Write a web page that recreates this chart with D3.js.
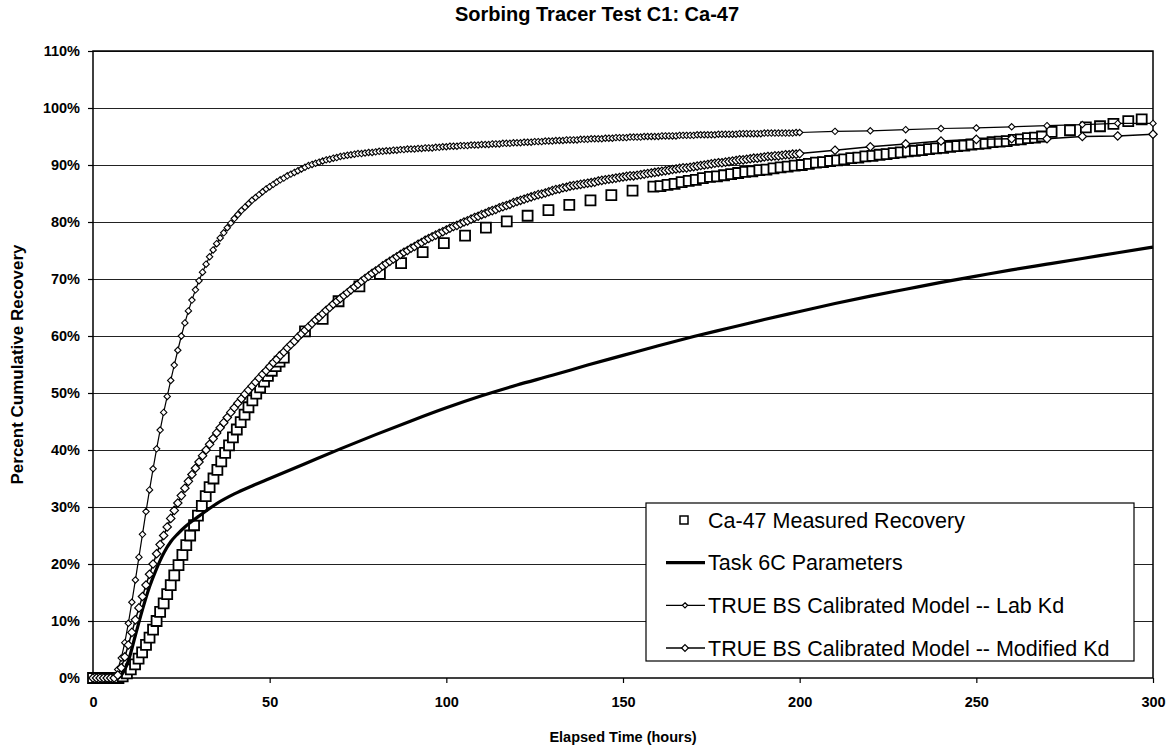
<!DOCTYPE html>
<html>
<head>
<meta charset="utf-8">
<title>Sorbing Tracer Test C1: Ca-47</title>
<script src="https://cdn.jsdelivr.net/npm/d3@7"></script>
<style>
  body { margin: 0; background: #fff; }
  text { font-family: Arial, "Liberation Sans", Helvetica, sans-serif; fill: #000; }
</style>
</head>
<body>
<svg id="chart" width="1174" height="748"></svg>
<script>
// Axis ticks
const xTicks = [0, 50, 100, 150, 200, 250, 300];
const yTicks = [0, 10, 20, 30, 40, 50, 60, 70, 80, 90, 100, 110];

// Ca-47 measured recovery (hours, %)
const measuredHours = [0, 1.2, 2.4, 3.6, 4.8, 6, 7.2, 8.4, 9.6, 10.7, 11.9, 12.9, 13.9, 15, 16, 17, 18, 19, 20, 21,
  22, 23, 24.2, 25.3, 26.4, 27.5, 28.6, 29.7, 30.8, 31.9, 33, 34.1, 35.2, 36.3, 37.4, 38.5, 39.6, 40.7, 41.8, 42.9,
  44, 45.1, 46.2, 47.3, 48.4, 49.5, 50.6, 51.7, 52.8, 54,
  60, 65, 69.5, 75.4, 81.2, 87.2, 93.3, 99.3, 105.3, 111.2, 117.1, 123, 128.9, 134.8, 140.8, 146.7, 152.7, 158.6,
  160.6, 162.6, 164.6, 166.6, 168.6, 170.6, 172.6, 174.6, 176.6, 178.6, 180.6, 182.6, 184.6, 186.6, 188.6, 190.6,
  192.6, 194.6, 196.6, 198.6, 200.6, 202.6, 204.6, 206.6, 208.6, 210.6, 212.6, 214.6, 216.6, 218.6, 220.6, 222.6,
  224.6, 226.6, 228.6, 230.6, 232.6, 234.6, 236.6, 238.6, 240.6, 242.6, 244.6, 246.6, 248.6, 250.6, 252.6, 254.6,
  256.6, 258.6, 260.6, 262.6, 264.6, 266.6, 268.6,
  271.3, 276.5, 281, 285, 288.8, 293, 296.8];
const measuredValues = [0, 0, 0, 0, 0, 0, 0, 0.3, 0.8, 1.5, 2.4, 3.4, 4.5, 5.8, 7.1, 8.5, 10.0, 11.6, 13.1, 14.7,
  16.3, 18.0, 19.8, 21.6, 23.3, 25.0, 26.8, 28.5, 30.2, 31.9, 33.5, 35.0, 36.5, 38.0, 39.5, 40.8, 42.2, 43.6, 44.9, 46.2,
  47.5, 48.7, 49.9, 51.0, 52.0, 53.0, 53.9, 54.7, 55.5, 56.2,
  60.8, 63.0, 66.1, 68.7, 70.9, 72.8, 74.7, 76.3, 77.6, 79.0, 80.1, 81.1, 82.1, 83.0, 83.8, 84.7, 85.5, 86.2,
  86.3, 86.5, 86.7, 87.0, 87.2, 87.4, 87.7, 87.9, 88.0, 88.2, 88.4, 88.6, 88.8, 88.9, 89.1, 89.2,
  89.4, 89.6, 89.7, 89.9, 90.0, 90.2, 90.4, 90.5, 90.7, 90.8, 91.0, 91.2, 91.3, 91.5, 91.6, 91.8,
  91.9, 92.1, 92.2, 92.4, 92.5, 92.6, 92.8, 92.9, 93.0, 93.2, 93.3, 93.4, 93.6, 93.7, 93.8, 94.0,
  94.1, 94.2, 94.4, 94.5, 94.7, 94.8, 95.0,
  95.8, 96.1, 96.6, 96.8, 97.2, 97.7, 98.0];

// Task 6C parameters (smooth model curve)
const task6cHours = [0, 7, 8, 10, 12, 14, 16, 18, 20, 22, 24, 26, 28, 30, 35, 40, 45, 50, 60, 70, 80, 90, 100,
  110, 120, 130, 140, 150, 160, 170, 180, 190, 200, 210, 220, 230, 240, 250, 260, 270, 280, 290, 300];
const task6cValues = [0, 0, 0.5, 3, 7.5, 12, 16, 19.2, 21.9, 23.9, 25.3, 26.5, 27.5, 28.4, 30.6, 32.3, 33.7, 35,
  37.6, 40.2, 42.7, 45.1, 47.4, 49.5, 51.4, 53.1, 54.9, 56.6, 58.3, 59.9, 61.4, 62.9, 64.3, 65.7, 67, 68.2, 69.4,
  70.5, 71.6, 72.6, 73.6, 74.6, 75.6];

// Model output grid: hourly to 200 h, then every 10 h
const modelHours = d3.range(0, 201).concat([210, 220, 230, 240, 250, 260, 270, 280, 290, 300]);

// TRUE BS calibrated model -- Lab Kd
const labKdValues = [
  0, 0, 0, 0, 0, 0, 0.4, 1.5, 3.5, 6.2, 9.6,
  13.3, 17.2, 21.2, 25.2, 29.2, 33.0, 36.7, 40.2, 43.5, 46.6,
  49.4, 52.2, 54.9, 57.5, 60.0, 62.3, 64.4, 66.3, 68.1, 69.7,
  71.2, 72.6, 73.9, 75.1, 76.2, 77.2, 78.1, 79.0, 79.8, 80.6,
  81.3, 82.0, 82.6, 83.2, 83.8, 84.3, 84.8, 85.3, 85.8, 86.2,
  86.6, 87.0, 87.4, 87.7, 88.1, 88.4, 88.7, 89.0, 89.3, 89.6,
  89.9, 90.1, 90.3, 90.5, 90.7, 90.9, 91.0, 91.2, 91.3, 91.5,
  91.6, 91.7, 91.8, 91.9, 92.0, 92.0, 92.1, 92.2, 92.2, 92.3,
  92.4, 92.4, 92.5, 92.5, 92.6, 92.6, 92.7, 92.7, 92.8, 92.8,
  92.8, 92.9, 92.9, 93.0, 93.0, 93.0, 93.1, 93.1, 93.2, 93.2,
  93.3, 93.3, 93.3, 93.4, 93.4, 93.4, 93.5, 93.5, 93.5, 93.6,
  93.6, 93.6, 93.7, 93.7, 93.7, 93.8, 93.8, 93.8, 93.9, 93.9,
  93.9, 94.0, 94.0, 94.0, 94.1, 94.1, 94.1, 94.2, 94.2, 94.2,
  94.3, 94.3, 94.3, 94.4, 94.4, 94.4, 94.4, 94.5, 94.5, 94.5,
  94.6, 94.6, 94.6, 94.6, 94.7, 94.7, 94.7, 94.8, 94.8, 94.8,
  94.8, 94.9, 94.9, 94.9, 94.9, 95.0, 95.0, 95.0, 95.0, 95.0,
  95.1, 95.1, 95.1, 95.1, 95.1, 95.2, 95.2, 95.2, 95.2, 95.2,
  95.3, 95.3, 95.3, 95.3, 95.3, 95.3, 95.4, 95.4, 95.4, 95.4,
  95.4, 95.4, 95.5, 95.5, 95.5, 95.5, 95.5, 95.5, 95.5, 95.6,
  95.6, 95.6, 95.6, 95.6, 95.6, 95.6, 95.6, 95.6, 95.7, 95.7,
  95.9, 96.0, 96.2, 96.4, 96.5, 96.7, 96.9, 97.1, 97.3, 97.3];

// TRUE BS calibrated model -- Modified Kd
const modKdValues = [
  0, 0, 0, 0, 0, 0, 0, 0.5, 1.8, 3.7, 5.8,
  8.0, 10.2, 12.3, 14.3, 16.3, 18.2, 20.0, 21.8, 23.4, 25.0,
  26.5, 28.0, 29.4, 30.7, 32.0, 33.3, 34.5, 35.7, 36.8, 37.9,
  39.0, 40.0, 41.0, 42.0, 43.0, 43.9, 44.8, 45.7, 46.6, 47.4,
  48.2, 49.0, 49.8, 50.5, 51.2, 51.9, 52.6, 53.3, 53.9, 54.6,
  55.3, 55.9, 56.6, 57.2, 57.9, 58.5, 59.1, 59.8, 60.4, 61.0,
  61.6, 62.2, 62.8, 63.3, 63.9, 64.5, 65.0, 65.6, 66.1, 66.6,
  67.1, 67.6, 68.1, 68.6, 69.1, 69.6, 70.1, 70.5, 71.0, 71.4,
  71.8, 72.3, 72.7, 73.1, 73.5, 73.9, 74.3, 74.7, 75.0, 75.4,
  75.7, 76.1, 76.4, 76.8, 77.1, 77.4, 77.7, 78.0, 78.3, 78.6,
  78.9, 79.2, 79.4, 79.7, 80.0, 80.2, 80.5, 80.8, 81.0, 81.3,
  81.5, 81.8, 82.0, 82.2, 82.5, 82.7, 82.9, 83.1, 83.4, 83.6,
  83.8, 84.0, 84.2, 84.4, 84.6, 84.8, 84.9, 85.1, 85.3, 85.5,
  85.7, 85.8, 86.0, 86.1, 86.3, 86.4, 86.5, 86.6, 86.7, 86.8,
  86.9, 87.0, 87.2, 87.3, 87.4, 87.5, 87.6, 87.7, 87.8, 87.9,
  88.0, 88.1, 88.1, 88.2, 88.3, 88.4, 88.5, 88.6, 88.7, 88.8,
  88.9, 89.0, 89.1, 89.2, 89.3, 89.4, 89.5, 89.5, 89.6, 89.7,
  89.8, 89.9, 90.0, 90.1, 90.2, 90.3, 90.4, 90.4, 90.5, 90.6,
  90.7, 90.8, 90.9, 90.9, 91.0, 91.1, 91.2, 91.2, 91.3, 91.4,
  91.5, 91.5, 91.6, 91.6, 91.7, 91.8, 91.8, 91.9, 91.9, 92.0,
  92.6, 93.2, 93.7, 94.2, 94.5, 94.6, 94.6, 95.0, 95.1, 95.4];

const legendLabels = [
  'Ca-47 Measured Recovery',
  'Task 6C Parameters',
  'TRUE BS Calibrated Model -- Lab Kd',
  'TRUE BS Calibrated Model -- Modified Kd'
];

// Pair up hours and values
const pairs = (hours, values) =>
  d3.range(Math.min(hours.length, values.length)).map(i => ({ h: hours[i], p: values[i] }));

const measured = pairs(measuredHours, measuredValues);
const task6c = pairs(task6cHours, task6cValues);
const labKd = pairs(modelHours, labKdValues);
const modKd = pairs(modelHours, modKdValues);

// Layout
const plot = { left: 93, right: 1153, top: 51, bottom: 678 };
const svg = d3.select('#chart');

const x = d3.scaleLinear().domain([0, 300]).range([plot.left, plot.right]);
const y = d3.scaleLinear().domain([0, 110]).range([plot.bottom, plot.top]);

// Diamond / square marker paths centred on 0,0
const diamond = r => `M0,${-r}L${r},0L0,${r}L${-r},0Z`;
const square = s => `M${-s / 2},${-s / 2}h${s}v${s}h${-s}Z`;

// Horizontal gridlines
svg.append('g')
  .selectAll('line')
  .data(yTicks.slice(1))
  .join('line')
  .attr('x1', plot.left)
  .attr('x2', plot.right)
  .attr('y1', d => Math.round(y(d)) + 0.5)
  .attr('y2', d => Math.round(y(d)) + 0.5)
  .attr('stroke', '#222')
  .attr('stroke-width', 1.2);

// Axes
const yAxis = svg.append('g')
  .attr('transform', `translate(${plot.left},0)`)
  .call(d3.axisLeft(y).tickValues(yTicks).tickFormat(d => d + '%').tickSize(5).tickPadding(8));

const xAxis = svg.append('g')
  .attr('transform', `translate(0,${plot.bottom})`)
  .call(d3.axisBottom(x).tickValues(xTicks).tickSize(5).tickPadding(14));

[yAxis, xAxis].forEach(a => {
  a.select('.domain').remove();
  a.selectAll('.tick line').attr('stroke', '#000').attr('stroke-width', 1.2);
  a.selectAll('.tick text')
    .style('font-family', 'Arial, "Liberation Sans", sans-serif')
    .style('font-size', '14.5px')
    .style('font-weight', 'bold')
    .attr('fill', '#000');
});

// Plot frame
svg.append('rect')
  .attr('x', plot.left)
  .attr('y', plot.top)
  .attr('width', plot.right - plot.left)
  .attr('height', plot.bottom - plot.top)
  .attr('fill', 'none')
  .attr('stroke', '#000')
  .attr('stroke-width', 1.5);

// Measured recovery: hollow squares
svg.append('g')
  .selectAll('path')
  .data(measured)
  .join('path')
  .attr('transform', d => `translate(${x(d.h)},${y(d.p)})`)
  .attr('d', square(10))
  .attr('fill', '#fff')
  .attr('stroke', '#000')
  .attr('stroke-width', 1.8);

const line = d3.line()
  .x(d => x(d.h))
  .y(d => y(d.p));

// Task 6C: heavy plain line
svg.append('path')
  .datum(task6c)
  .attr('d', line.curve(d3.curveMonotoneX))
  .attr('fill', 'none')
  .attr('stroke', '#000')
  .attr('stroke-width', 3.2);

line.curve(d3.curveLinear);

// Model series: thin line with white-filled diamonds
function drawModel(data, r, lineWidth, markerWidth) {
  const g = svg.append('g');
  g.append('path')
    .datum(data)
    .attr('d', line)
    .attr('fill', 'none')
    .attr('stroke', '#000')
    .attr('stroke-width', lineWidth);
  g.selectAll('path.marker')
    .data(data)
    .join('path')
    .attr('class', 'marker')
    .attr('transform', d => `translate(${x(d.h)},${y(d.p)})`)
    .attr('d', diamond(r))
    .attr('fill', '#fff')
    .attr('stroke', '#000')
    .attr('stroke-width', markerWidth);
}

drawModel(labKd, 3.2, 1.2, 1.1);
drawModel(modKd, 4.2, 1.5, 1.2);

// Title and axis titles
svg.append('text')
  .attr('x', 597)
  .attr('y', 21)
  .attr('text-anchor', 'middle')
  .style('font-size', '20px')
  .style('font-weight', 'bold')
  .text('Sorbing Tracer Test C1: Ca-47');

svg.append('text')
  .attr('x', (plot.left + plot.right) / 2)
  .attr('y', 742)
  .attr('text-anchor', 'middle')
  .style('font-size', '14.5px')
  .style('font-weight', 'bold')
  .text('Elapsed Time (hours)');

svg.append('text')
  .attr('transform', `translate(23,${(plot.top + plot.bottom) / 2}) rotate(-90)`)
  .attr('text-anchor', 'middle')
  .style('font-size', '17px')
  .style('font-weight', 'bold')
  .text('Percent Cumulative Recovery');

// Legend
const legend = svg.append('g').attr('transform', 'translate(646,503)');
legend.append('rect')
  .attr('width', 488)
  .attr('height', 158)
  .attr('fill', '#fff')
  .attr('stroke', '#000')
  .attr('stroke-width', 1.2);

const rowY = d3.scalePoint().domain(d3.range(legendLabels.length)).range([17, 145]);

legendLabels.forEach((label, i) => {
  const row = legend.append('g').attr('transform', `translate(0,${rowY(i)})`);
  if (i === 0) {
    row.append('path')
      .attr('transform', 'translate(38,0)')
      .attr('d', square(8))
      .attr('fill', '#fff')
      .attr('stroke', '#000')
      .attr('stroke-width', 1.5);
  } else {
    row.append('line')
      .attr('x1', 20)
      .attr('x2', 59)
      .attr('stroke', '#000')
      .attr('stroke-width', i === 1 ? 3.2 : (i === 2 ? 1.2 : 1.5));
    if (i > 1) {
      row.append('path')
        .attr('transform', 'translate(39,0)')
        .attr('d', diamond(i === 2 ? 2.6 : 3.4))
        .attr('fill', '#fff')
        .attr('stroke', '#000')
        .attr('stroke-width', 1.2);
    }
  }
  row.append('text')
    .attr('x', 62)
    .attr('dy', '0.35em')
    .style('font-size', '21.5px')
    .text(label);
});
</script>
</body>
</html>
